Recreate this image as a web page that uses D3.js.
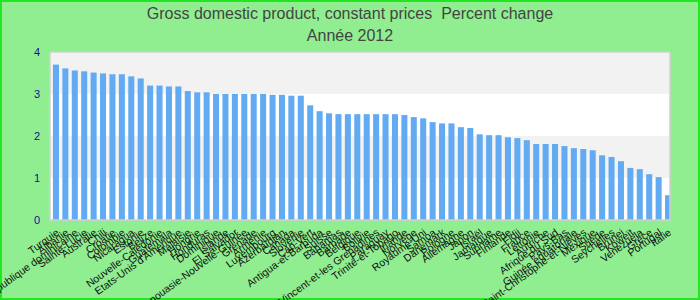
<!DOCTYPE html>
<html>
<head>
<meta charset="utf-8">
<script src="https://cdn.jsdelivr.net/npm/d3@7"></script>
<style>
  body { margin: 0; }
  svg { display: block; font-family: "Liberation Sans", Arial, sans-serif; }
</style>
</head>
<body>
<svg id="chart" width="700" height="300"></svg>
<script>
const countries = [
  "Turquie", "Albanie", "République dominicaine", "Sainte-Lucie", "Australie", "Chili",
  "Croatie", "Colombie", "Nicaragua", "Estonie", "Belize", "Nouvelle-Calédonie",
  "Guatemala", "Etats-Unis d'Amérique", "Malaisie", "Hongrie", "Honduras", "Dominique",
  "Islande", "El Salvador", "Papouasie-Nouvelle-Guinée", "Grenade", "Arménie", "Luxembourg",
  "Azerbaïdjan", "Canada", "Slovénie", "Cap-Vert", "Antigua-et-Barbuda", "Suisse",
  "Bahamas", "Barbade", "Belgique", "Bolivie", "Saint-Vincent-et-les Grenadines", "Paraguay",
  "Trinité-et-Tobago", "Irlande", "Norvège", "Royaume-Uni", "Samoa", "Danemark",
  "Pologne", "Allemagne", "Japon", "Israël", "Jamaïque", "Suriname",
  "Finlande", "Fidji", "France", "Lettonie", "Autriche", "Afrique du Sud",
  "Pays-Bas", "Guinée équatoriale", "Saint-Christophe-et-Niévès", "Mexique", "Suède", "Seychelles",
  "Brunei", "Koweït", "Venezuela", "Grèce", "Portugal", "Italie"
];
const growth = [
  3.70, 3.61, 3.56, 3.54, 3.51, 3.49,
  3.47, 3.47, 3.42, 3.37, 3.20, 3.20,
  3.18, 3.18, 3.07, 3.04, 3.04, 3.00,
  3.00, 3.00, 3.00, 3.00, 3.00, 2.98,
  2.98, 2.96, 2.96, 2.73, 2.59, 2.54,
  2.52, 2.52, 2.52, 2.52, 2.52, 2.52,
  2.52, 2.50, 2.45, 2.42, 2.33, 2.30,
  2.30, 2.21, 2.19, 2.04, 2.02, 2.02,
  1.97, 1.95, 1.90, 1.81, 1.81, 1.81,
  1.76, 1.71, 1.69, 1.66, 1.54, 1.50,
  1.40, 1.24, 1.21, 1.09, 1.02, 0.59
];
const yTicks = [0, 1, 2, 3, 4];
const titleLines = ["Gross domestic product, constant prices  Percent change", "Année 2012"];

const svg = d3.select("#chart");
const W = 700, H = 300;
const plot = { left: 50, right: 670, top: 52, bottom: 220 };

// background + outer border
svg.append("rect")
  .attr("x", 1).attr("y", 1).attr("width", W - 2).attr("height", H - 2)
  .attr("fill", "#90ee90")
  .attr("stroke", "#22e622")
  .attr("stroke-width", 2);

// title
svg.append("g").selectAll("text")
  .data(titleLines)
  .enter().append("text")
  .attr("x", W / 2)
  .attr("y", (d, i) => 19 + i * 22)
  .attr("text-anchor", "middle")
  .attr("fill", "#444")
  .style("font-size", "16px")
  .style("white-space", "pre")
  .text(d => d);

const x = d3.scaleBand()
  .domain(countries)
  .range([plot.left + 2, plot.right + 2])
  .paddingInner(0.36)
  .paddingOuter(0.1);

const y = d3.scaleLinear()
  .domain([0, 4])
  .range([plot.bottom, plot.top]);

// alternating bands
const bands = d3.range(0, 4);
svg.append("g").selectAll("rect")
  .data(bands)
  .enter().append("rect")
  .attr("x", plot.left)
  .attr("width", plot.right - plot.left)
  .attr("y", d => y(d + 1))
  .attr("height", d => y(d) - y(d + 1))
  .attr("fill", d => d % 2 === 1 ? "#f2f2f2" : "#ffffff");

svg.append("clipPath").attr("id", "clip")
  .append("rect")
  .attr("x", plot.left).attr("y", plot.top)
  .attr("width", plot.right - plot.left).attr("height", plot.bottom - plot.top);

// bars
svg.append("g")
  .attr("clip-path", "url(#clip)")
  .selectAll("rect")
  .data(countries)
  .enter().append("rect")
  .attr("x", d => x(d))
  .attr("width", x.bandwidth())
  .attr("y", (d, i) => y(growth[i]))
  .attr("height", (d, i) => y(0) - y(growth[i]))
  .attr("fill", "#62aaf2");

// plot border
svg.append("rect")
  .attr("x", plot.left).attr("y", plot.top)
  .attr("width", plot.right - plot.left).attr("height", plot.bottom - plot.top)
  .attr("fill", "none")
  .attr("stroke", "#d0d0d0")
  .attr("stroke-width", 1.5);

// y axis labels
const yAxis = d3.axisLeft(y).tickValues(yTicks).tickFormat(d3.format("d")).tickSize(0).tickPadding(10);
const gy = svg.append("g")
  .attr("transform", `translate(${plot.left},0)`)
  .call(yAxis);
gy.select(".domain").remove();
gy.selectAll("text")
  .attr("fill", "#10109a")
  .style("font-size", "11px")
  .style("font-family", "'Liberation Sans', Arial, sans-serif");

// x axis labels
const xAxis = d3.axisBottom(x).tickSize(0).tickPadding(0);
const gx = svg.append("g")
  .attr("transform", `translate(0,${plot.bottom})`)
  .call(xAxis);
gx.select(".domain").remove();
gx.selectAll("text")
  .attr("text-anchor", "end")
  .attr("fill", "#111")
  .attr("dy", "0")
  .attr("transform", "translate(4,14) rotate(-36)")
  .style("font-size", "10.5px")
  .style("font-family", "'Liberation Sans', Arial, sans-serif");
</script>
</body>
</html>
